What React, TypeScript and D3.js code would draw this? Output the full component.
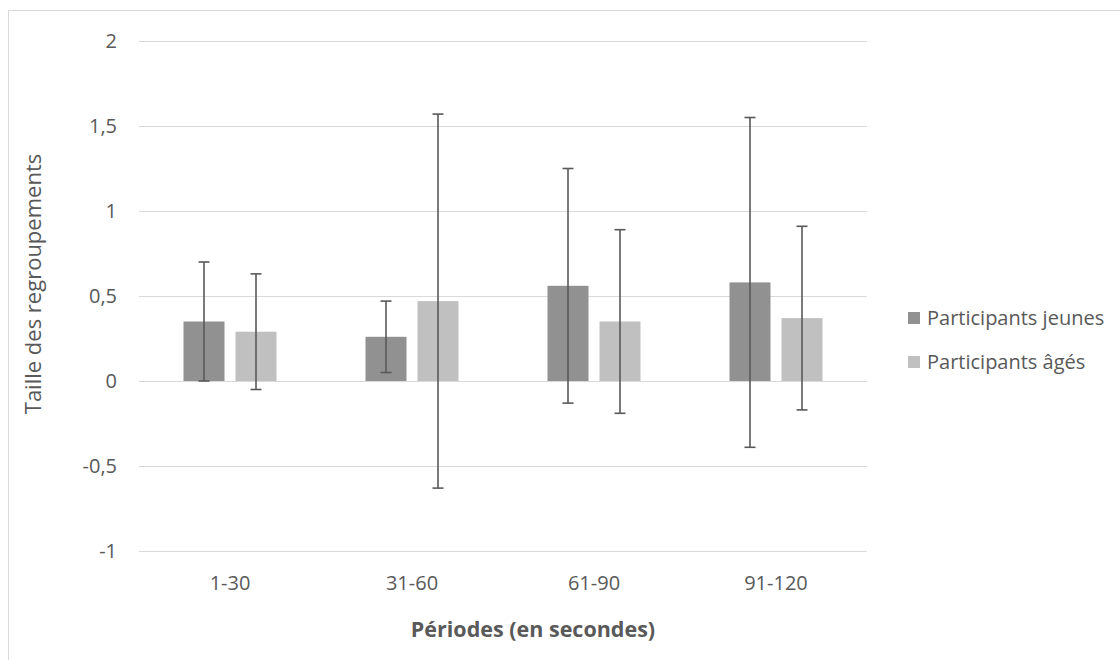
import React from "react";
import * as d3 from "d3";

const categories = ["1-30", "31-60", "61-90", "91-120"];
const seriesNames = ["Participants jeunes", "Participants âgés"];
const jeunesValues = [0.35, 0.26, 0.56, 0.58];
const jeunesErrors = [0.35, 0.21, 0.69, 0.97];
const agesValues = [0.29, 0.47, 0.35, 0.37];
const agesErrors = [0.34, 1.1, 0.54, 0.54];
const yTicks = [-1, -0.5, 0, 0.5, 1, 1.5, 2];
const seriesColors = ["#919191", "#c0c0c0"];

const W = 1120;
const H = 660;
const FONT = "'Open Sans', 'Noto Sans', sans-serif";
const TEXT = "#595959";

export default function App() {
  const x0 = d3.scaleBand<string>().domain(categories).range([139, 867]).padding(0);
  const bw = x0.bandwidth();
  const x1 = d3
    .scaleBand<string>()
    .domain(seriesNames)
    .range([bw / 2 - 46.5, bw / 2 + 46.5])
    .paddingInner(2 - 93 / 52)
    .paddingOuter(0);
  const y = d3.scaleLinear().domain([-1, 2]).range([551, 41]);
  const fmt = (v: number) => String(v).replace(".", ",");

  const data = [
    { name: seriesNames[0], values: jeunesValues, errors: jeunesErrors, color: seriesColors[0] },
    { name: seriesNames[1], values: agesValues, errors: agesErrors, color: seriesColors[1] },
  ];

  return (
    <svg
      width={W}
      height={H}
      style={{ position: "absolute", left: 0, top: 0, background: "#fff" }}
      fontFamily={FONT}
    >
      <rect x={0} y={0} width={W} height={H} fill="#fff" />
      <rect x={8.5} y={10.5} width={W + 10} height={H + 10} fill="none" stroke="#d9d9d9" strokeWidth={1} />
      {yTicks.map((t) => (
        <g key={t}>
          <line x1={139} x2={867} y1={Math.round(y(t)) + 0.5} y2={Math.round(y(t)) + 0.5} stroke="#d9d9d9" strokeWidth={1.2} />
          <text x={117} y={y(t) + 7} textAnchor="end" fontSize={20} fill={TEXT}>
            {fmt(t)}
          </text>
        </g>
      ))}
      {data.map((s) =>
        categories.map((c, i) => {
          const bx = (x0(c) as number) + (x1(s.name) as number);
          const v = s.values[i];
          return (
            <rect
              key={s.name + c}
              x={bx}
              y={Math.min(y(v), y(0))}
              width={x1.bandwidth()}
              height={Math.abs(y(0) - y(v))}
              fill={s.color}
            />
          );
        })
      )}
      {data.map((s) =>
        categories.map((c, i) => {
          const cx = (x0(c) as number) + (x1(s.name) as number) + x1.bandwidth() / 2;
          const v = s.values[i];
          const e = s.errors[i];
          const top = y(v + e);
          const bot = y(v - e);
          return (
            <g key={"e" + s.name + c} stroke="#595959" strokeWidth={1.6}>
              <line x1={cx} x2={cx} y1={top} y2={bot} />
              <line x1={cx - 5.5} x2={cx + 5.5} y1={top} y2={top} />
              <line x1={cx - 5.5} x2={cx + 5.5} y1={bot} y2={bot} />
            </g>
          );
        })
      )}
      {categories.map((c) => (
        <text key={c} x={(x0(c) as number) + bw / 2} y={590} textAnchor="middle" fontSize={20} fill={TEXT}>
          {c}
        </text>
      ))}
      <text x={533} y={637} textAnchor="middle" fontSize={21.5} fontWeight="bold" fill={TEXT}>
        Périodes (en secondes)
      </text>
      <text
        transform={`translate(41, 284) rotate(-90)`}
        textAnchor="middle"
        fontSize={22}
        fill={TEXT}
      >
        Taille des regroupements
      </text>
      {data.map((s, i) => (
        <g key={"lg" + s.name} transform={`translate(908, ${312 + i * 44})`}>
          <rect x={0} y={0} width={12} height={12} fill={s.color} />
          <text x={19} y={13} fontSize={20} fill={TEXT}>
            {s.name}
          </text>
        </g>
      ))}
    </svg>
  );
}
